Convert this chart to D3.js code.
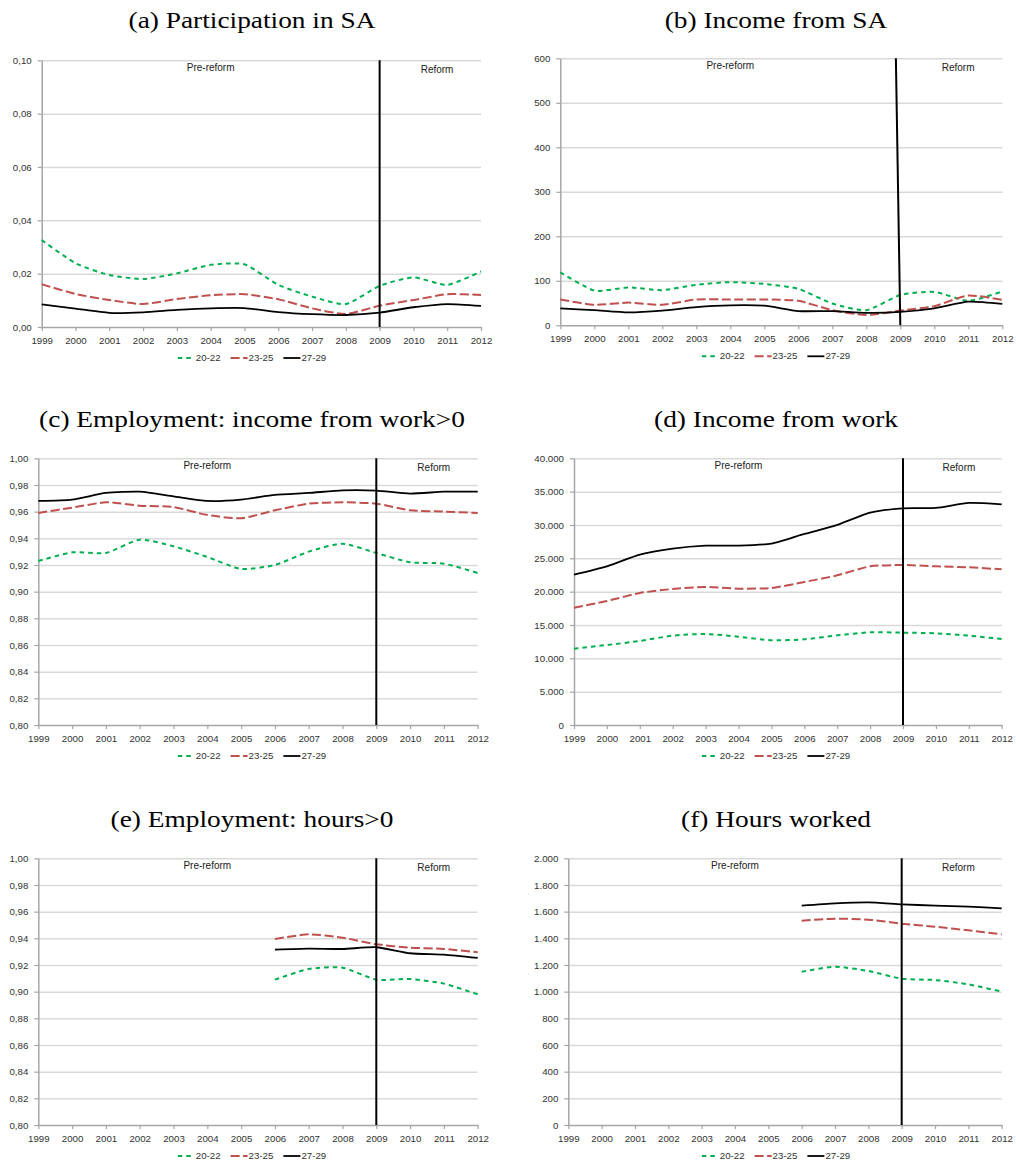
<!DOCTYPE html>
<html>
<head>
<meta charset="utf-8">
<script src="https://cdn.jsdelivr.net/npm/d3@7.9.0/dist/d3.min.js"></script>
<style>
  body { margin: 0; background: #fff; }
  svg { display: block; }
</style>
</head>
<body>
<svg id="chart" width="1016" height="1167"></svg>
<script>
// years on the x axis
const years = [1999, 2000, 2001, 2002, 2003, 2004, 2005, 2006, 2007, 2008, 2009, 2010, 2011, 2012];
const groups = ['20-22', '23-25', '27-29'];

// (a) Participation in SA
const participation2022 = [0.0326, 0.0239, 0.0195, 0.0180, 0.0201, 0.0233, 0.0235, 0.0158, 0.0114, 0.0086, 0.0154, 0.0186, 0.0158, 0.0208];
const participation2325 = [0.0160, 0.0124, 0.0101, 0.0086, 0.0105, 0.0119, 0.0123, 0.0104, 0.0070, 0.0049, 0.0080, 0.0101, 0.0123, 0.0120];
const participation2729 = [0.0085, 0.0069, 0.0053, 0.0055, 0.0064, 0.0070, 0.0071, 0.0056, 0.0048, 0.0045, 0.0054, 0.0074, 0.0086, 0.0079];

// (b) Income from SA
const incomeSA2022 = [119, 78, 85, 79, 91, 97, 93, 82, 49, 34, 68, 75, 55, 76];
const incomeSA2325 = [58, 46, 51, 46, 58, 58, 58, 55, 34, 23, 33, 43, 67, 57];
const incomeSA2729 = [38, 34, 29, 33, 41, 45, 44, 32, 32, 28, 30, 38, 53, 48];

// (c) Employment: income from work>0
const employInc2022 = [0.923, 0.9295, 0.929, 0.939, 0.934, 0.926, 0.917, 0.920, 0.930, 0.936, 0.929, 0.922, 0.921, 0.914];
const employInc2325 = [0.959, 0.963, 0.967, 0.9645, 0.9635, 0.9575, 0.955, 0.961, 0.966, 0.967, 0.966, 0.961, 0.960, 0.959];
const employInc2729 = [0.968, 0.969, 0.974, 0.975, 0.9715, 0.968, 0.969, 0.9725, 0.974, 0.976, 0.9758, 0.9735, 0.975, 0.975];

// (d) Income from work
const incomeWork2022 = [11450, 12000, 12600, 13400, 13650, 13250, 12700, 12850, 13450, 13900, 13850, 13750, 13400, 12900];
const incomeWork2325 = [17600, 18600, 19800, 20400, 20700, 20450, 20550, 21450, 22450, 23800, 24000, 23800, 23650, 23350];
const incomeWork2729 = [22550, 23800, 25550, 26450, 26900, 26900, 27200, 28650, 30000, 31850, 32500, 32550, 33300, 33100];

// (e) Employment: hours>0 (only from 2006)
const employHrs2022 = [null, null, null, null, null, null, null, 0.909, 0.917, 0.918, 0.909, 0.9095, 0.906, 0.898];
const employHrs2325 = [null, null, null, null, null, null, null, 0.9395, 0.943, 0.9405, 0.9355, 0.933, 0.932, 0.9295];
const employHrs2729 = [null, null, null, null, null, null, null, 0.9315, 0.9323, 0.932, 0.9333, 0.9288, 0.9278, 0.9253];

// (f) Hours worked (only from 2006)
const hours2022 = [null, null, null, null, null, null, null, 1150, 1187, 1155, 1097, 1087, 1055, 1000];
const hours2325 = [null, null, null, null, null, null, null, 1532, 1547, 1540, 1510, 1487, 1460, 1430];
const hours2729 = [null, null, null, null, null, null, null, 1645, 1662, 1670, 1655, 1645, 1637, 1625];

// y tick values
const ticksParticipation = [0, 0.02, 0.04, 0.06, 0.08, 0.10];
const ticksIncomeSA = [0, 100, 200, 300, 400, 500, 600];
const ticksShare = [0.80, 0.82, 0.84, 0.86, 0.88, 0.90, 0.92, 0.94, 0.96, 0.98, 1.00];
const ticksIncomeWork = [0, 5000, 10000, 15000, 20000, 25000, 30000, 35000, 40000];
const ticksHours = [0, 200, 400, 600, 800, 1000, 1200, 1400, 1600, 1800, 2000];

// annotations
const reformYear = 2009;
const preReformLabelYear = 2004;
const reformLabelYear = 2010.7;

const locale = d3.formatLocale({ decimal: ',', thousands: '.', grouping: [3], currency: ['', ''] });
const fmt2 = locale.format('.2f');
const fmtInt = locale.format(',d');

const colors = ['#00b050', '#c0504d', '#000000'];
const dashes = ['4.5,4', '9,3.5', null];
const widths = [2, 2, 1.8];

const panels = [
  { title: '(a) Participation in SA', series: [participation2022, participation2325, participation2729],
    ticks: ticksParticipation, fmt: fmt2, box: [41.7, 481, 60.3, 327], titleY: 28, cx: 252, reformTop: 2009 },
  { title: '(b) Income from SA', series: [incomeSA2022, incomeSA2325, incomeSA2729],
    ticks: ticksIncomeSA, fmt: fmtInt, box: [560.3, 1002.3, 58.3, 325.3], titleY: 28, cx: 776, reformTop: 2008.87 },
  { title: '(c) Employment: income from work>0', series: [employInc2022, employInc2325, employInc2729],
    ticks: ticksShare, fmt: fmt2, box: [38.3, 477.7, 458.3, 725], titleY: 427, cx: 252, reformTop: 2009 },
  { title: '(d) Income from work', series: [incomeWork2022, incomeWork2325, incomeWork2729],
    ticks: ticksIncomeWork, fmt: fmtInt, box: [574, 1001.7, 458.3, 725], titleY: 427, cx: 776, reformTop: 2009 },
  { title: '(e) Employment: hours>0', series: [employHrs2022, employHrs2325, employHrs2729],
    ticks: ticksShare, fmt: fmt2, box: [38.3, 477.7, 858.3, 1125], titleY: 827, cx: 252, reformTop: 2009 },
  { title: '(f) Hours worked', series: [hours2022, hours2325, hours2729],
    ticks: ticksHours, fmt: fmtInt, box: [568.3, 1001.7, 858.3, 1125], titleY: 827, cx: 776, reformTop: 2009 },
];

const svg = d3.select('#chart');
const labelFont = '"Liberation Sans", Arial, sans-serif';

function renderPanel(p) {
  const [left, right, top, bottom] = p.box;
  const g = svg.append('g');

  const x = d3.scaleLinear().domain([years[0], years[years.length - 1]]).range([left, right]);
  const y = d3.scaleLinear().domain(d3.extent(p.ticks)).range([bottom, top]);

  // title, serif and a bit wide like Computer Modern
  const title = g.append('text')
    .attr('x', p.cx)
    .attr('y', p.titleY)
    .attr('text-anchor', 'middle')
    .style('font-family', '"Liberation Serif", "Times New Roman", serif')
    .style('font-size', '24px')
    .attr('fill', '#000')
    .text(p.title);
  const natural = title.node().getComputedTextLength();
  title.attr('textLength', natural * 1.14).attr('lengthAdjust', 'spacingAndGlyphs');

  // gridlines
  g.append('g')
    .attr('transform', `translate(${left},0)`)
    .call(d3.axisLeft(y).tickValues(p.ticks.slice(1)).tickFormat('').tickSize(-(right - left)))
    .call((s) => s.select('.domain').remove())
    .call((s) => s.selectAll('line').attr('stroke', '#d9d9d9').attr('stroke-width', 1.5));

  // axes
  const xAxis = g.append('g')
    .attr('transform', `translate(0,${bottom})`)
    .call(d3.axisBottom(x).tickValues(years).tickFormat(d3.format('d')).tickSize(4).tickPadding(6).tickSizeOuter(0));
  const yAxis = g.append('g')
    .attr('transform', `translate(${left},0)`)
    .call(d3.axisLeft(y).tickValues(p.ticks).tickFormat(p.fmt).tickSize(4).tickPadding(6).tickSizeOuter(0));

  [xAxis, yAxis].forEach((a) => {
    a.select('.domain').attr('stroke', '#a6a6a6').attr('stroke-width', 1.5);
    a.selectAll('.tick line').attr('stroke', '#a6a6a6').attr('stroke-width', 1.2);
    a.selectAll('text')
      .style('font-family', labelFont)
      .style('font-size', '9.7px')
      .attr('fill', '#333');
  });

  // series, lightly smoothed like Excel
  const line = d3.line()
    .defined((d) => d.v !== null)
    .x((d) => x(d.year))
    .y((d) => y(d.v))
    .curve(d3.curveCardinal.tension(0.4));

  p.series.forEach((vals, i) => {
    const pts = years.map((year, k) => ({ year, v: vals[k] }));
    g.append('path')
      .datum(pts)
      .attr('d', line)
      .attr('fill', 'none')
      .attr('stroke', colors[i])
      .attr('stroke-width', widths[i])
      .attr('stroke-dasharray', dashes[i]);
  });

  // reform divider
  g.append('line')
    .attr('x1', x(p.reformTop))
    .attr('x2', x(reformYear))
    .attr('y1', y(p.ticks[p.ticks.length - 1]))
    .attr('y2', y(p.ticks[0]))
    .attr('stroke', '#000')
    .attr('stroke-width', 2);

  g.append('text')
    .attr('x', x(preReformLabelYear))
    .attr('y', top + 8.5)
    .attr('text-anchor', 'middle')
    .attr('dominant-baseline', 'middle')
    .style('font-family', labelFont)
    .style('font-size', '10px')
    .attr('fill', '#222')
    .text('Pre-reform');
  g.append('text')
    .attr('x', x(reformLabelYear))
    .attr('y', top + 10)
    .attr('text-anchor', 'middle')
    .attr('dominant-baseline', 'middle')
    .style('font-family', labelFont)
    .style('font-size', '10px')
    .attr('fill', '#222')
    .text('Reform');

  // legend under the x axis
  const leg = g.append('g');
  const ly = bottom + 31;
  let cursor = 0;
  groups.forEach((name, i) => {
    leg.append('line')
      .attr('x1', cursor).attr('x2', cursor + 17)
      .attr('y1', ly).attr('y2', ly)
      .attr('stroke', colors[i])
      .attr('stroke-width', widths[i])
      .attr('stroke-dasharray', dashes[i]);
    const t = leg.append('text')
      .attr('x', cursor + 18)
      .attr('y', ly)
      .attr('dominant-baseline', 'middle')
      .style('font-family', labelFont)
      .style('font-size', '9.7px')
      .attr('fill', '#333')
      .text(name);
    cursor += 18 + t.node().getComputedTextLength() + 10;
  });
  const legWidth = cursor - 10;
  leg.attr('transform', `translate(${p.cx - legWidth / 2},0)`);
}

panels.forEach(renderPanel);
</script>
</body>
</html>
